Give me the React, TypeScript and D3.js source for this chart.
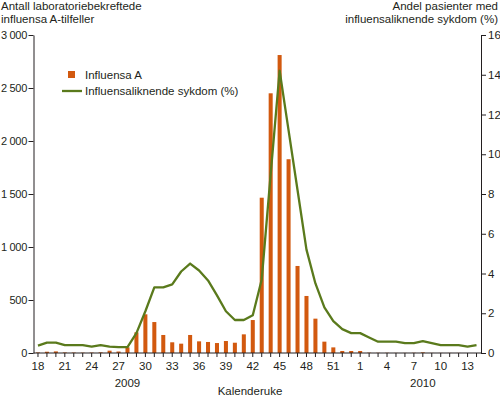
import { useRef, useEffect } from "react";
import * as d3 from "d3";

// Kalenderuker: 2009 uke 18–53, 2010 uke 1–14
const weeks2009 = d3.range(18, 54);
const weeks2010 = d3.range(1, 15);
const weekKeys = [
  ...weeks2009.map((w) => `2009-${w}`),
  ...weeks2010.map((w) => `2010-${w}`),
];

// Antall laboratoriebekreftede influensa A-tilfeller
const influensaA = [
  5, 12, 15, 5, 4, 3, 4, 6, 22, 14, 53, 195, 365, 292, 170, 101, 88, 170, 110, 104,
  94, 113, 97, 176, 311, 1465, 2450, 2811, 1828, 821, 538, 324, 107, 53, 19, 19,
  19, 3, 2, 2, 1, 1, 2, 6, 1, 1, 1, 1, 0, 0,
];

// Andel pasienter med influensaliknende sykdom (%)
const ili = [
  0.37, 0.52, 0.52, 0.4, 0.4, 0.4, 0.32, 0.4, 0.32, 0.3, 0.3, 1.0, 2.1, 3.3, 3.3,
  3.45, 4.1, 4.5, 4.15, 3.65, 2.9, 2.1, 1.66, 1.66, 1.9, 3.7, 9.0, 14.2, 11.2, 8.2,
  5.2, 3.5, 2.3, 1.6, 1.2, 1.0, 1.0, 0.78, 0.57, 0.57, 0.57, 0.5, 0.5, 0.6, 0.5,
  0.4, 0.4, 0.4, 0.32, 0.4,
];

const leftTicks = [0, 500, 1000, 1500, 2000, 2500, 3000];
const rightTicks = [0, 2, 4, 6, 8, 10, 12, 14, 16];

const W = 500;
const H = 397;
const FONT = "'Liberation Sans', Arial, sans-serif";
const BAR = "#d2590f";
const LINE = "#5a7a1c";
const INK = "#231f20";

const nbFormat = d3.formatLocale({
  decimal: ",",
  thousands: " ",
  grouping: [3],
  currency: ["", ""],
}).format(",");

export default function App() {
  const xRef = useRef<SVGGElement | null>(null);
  const lRef = useRef<SVGGElement | null>(null);
  const rRef = useRef<SVGGElement | null>(null);

  const left = 33.5;
  const right = 481;
  const top = 35;
  const bottom = 353;

  const x = d3.scaleBand<string>().domain(weekKeys).range([left, right]).paddingInner(0.55).paddingOuter(0.275);
  const xc = (k: string) => (x(k) ?? 0) + x.bandwidth() / 2;
  const yL = d3.scaleLinear().domain([0, 3000]).range([bottom, top]);
  const yR = d3.scaleLinear().domain([0, 16]).range([bottom, top]);

  const line = d3
    .line<number>()
    .x((_, i) => xc(weekKeys[i]))
    .y((d) => yR(d));

  useEffect(() => {
    const style = (g: d3.Selection<SVGGElement, unknown, null, undefined>, size = 11.5) => {
      g.attr("font-family", FONT).attr("font-size", size);
      g.selectAll("text").attr("fill", INK);
      g.selectAll("line").attr("stroke", INK);
      g.selectAll("path").attr("stroke", INK);
    };

    if (xRef.current) {
      const g = d3.select(xRef.current);
      g.selectAll("*").remove();
      g.call(
        d3
          .axisBottom(x)
          .tickSize(4)
          .tickSizeOuter(0)
          .tickPadding(5)
          .tickFormat((k) => {
            const i = weekKeys.indexOf(k);
            return i % 3 === 0 ? k.split("-")[1] : "";
          })
      );
      g.select(".domain").remove();
      g.insert("line", ":first-child")
        .attr("x1", left)
        .attr("x2", right)
        .attr("stroke", INK);
      style(g);
    }
    if (lRef.current) {
      const g = d3.select(lRef.current);
      g.selectAll("*").remove();
      g.call(
        d3.axisLeft(yL).tickValues(leftTicks).tickSize(5).tickSizeOuter(0).tickPadding(1.5).tickFormat((d) => nbFormat(d as number))
      );
      style(g, 11);
      g.selectAll("text").attr("letter-spacing", -0.3);
    }
    if (rRef.current) {
      const g = d3.select(rRef.current);
      g.selectAll("*").remove();
      g.call(d3.axisRight(yR).tickValues(rightTicks).tickSize(5).tickSizeOuter(0).tickPadding(2));
      style(g);
    }
  });

  return (
    <svg
      width={W}
      height={H}
      style={{ position: "absolute", left: 0, top: 0, background: "#fff" }}
      fontFamily={FONT}
    >
      {/* Søyler */}
      {influensaA.map((v, i) => (
        <rect
          key={weekKeys[i]}
          x={x(weekKeys[i])}
          y={yL(v)}
          width={x.bandwidth()}
          height={bottom - yL(v)}
          fill={BAR}
        />
      ))}

      {/* Linje */}
      <path d={line(ili) ?? ""} fill="none" stroke={LINE} strokeWidth={2.3} strokeLinejoin="round" />

      <g ref={xRef} transform={`translate(0,${bottom})`} />
      <g ref={lRef} transform={`translate(${left},0)`} />
      <g ref={rRef} transform={`translate(${right},0)`} />

      {/* Aksetitler */}
      <text x={1} y={10} fontSize={11.5} fill={INK}>Antall laboratoriebekreftede</text>
      <text x={1} y={23} fontSize={11.5} fill={INK}>influensa A-tilfeller</text>
      <text x={498} y={10} fontSize={11.5} fill={INK} textAnchor="end">Andel pasienter med</text>
      <text x={498} y={23} fontSize={11.5} fill={INK} textAnchor="end">influensaliknende sykdom (%)</text>

      {/* Årstall og x-tittel */}
      <text x={xc("2009-28")} y={387} fontSize={11.5} fill={INK} textAnchor="middle">2009</text>
      <text x={xc("2010-8")} y={387} fontSize={11.5} fill={INK} textAnchor="middle">2010</text>
      <text x={250} y={395} fontSize={11.5} fill={INK} textAnchor="middle">Kalenderuke</text>

      {/* Tegnforklaring */}
      <rect x={68} y={71} width={7} height={7} fill={BAR} />
      <text x={85} y={78.5} fontSize={11.5} fill={INK}>Influensa A</text>
      <line x1={62} x2={82} y1={91} y2={91} stroke={LINE} strokeWidth={2.3} />
      <text x={85} y={95} fontSize={11.5} fill={INK}>Influensaliknende sykdom (%)</text>
    </svg>
  );
}
